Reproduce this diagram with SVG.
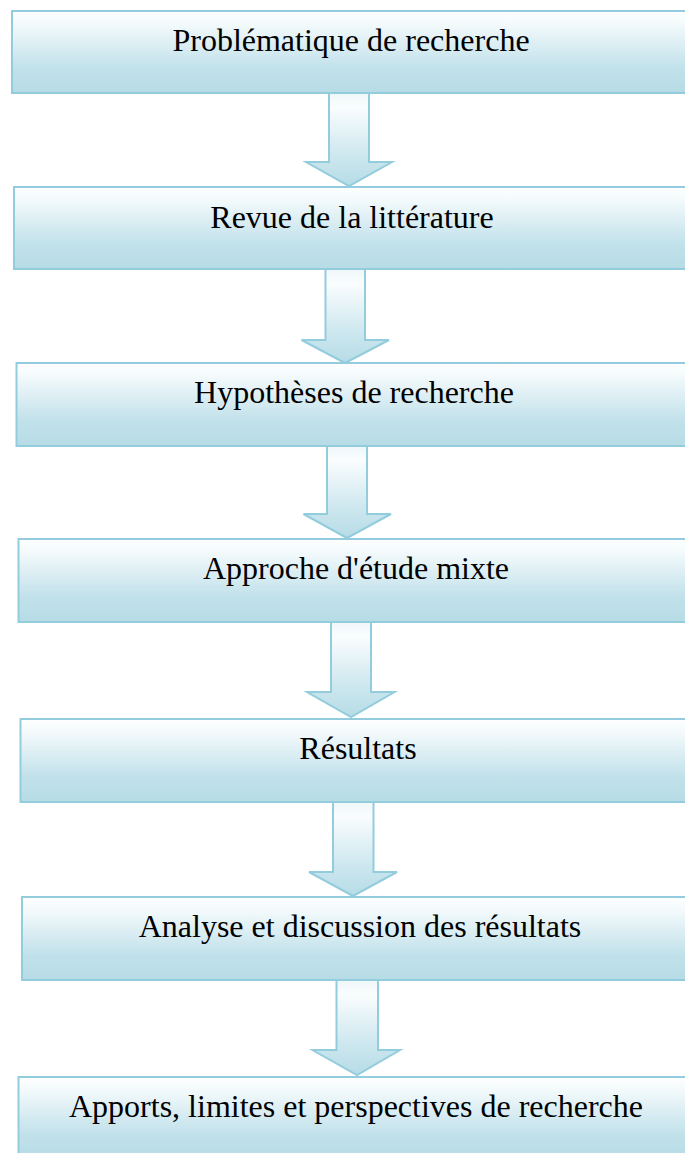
<svg xmlns="http://www.w3.org/2000/svg" width="685" height="1153" viewBox="0 0 685 1153">
<defs>
<linearGradient id="boxGrad" x1="0" y1="0" x2="0" y2="1">
<stop offset="0" stop-color="#FEFFFF"/>
<stop offset="0.15" stop-color="#F4FAFC"/>
<stop offset="0.7" stop-color="#C1E1EA"/>
<stop offset="1" stop-color="#B6DCE6"/>
</linearGradient>
<linearGradient id="arrowGrad" x1="0" y1="0" x2="0" y2="1">
<stop offset="0" stop-color="#EEF7FA"/>
<stop offset="0.15" stop-color="#FAFDFE"/>
<stop offset="0.7" stop-color="#CBE6EE"/>
<stop offset="1" stop-color="#B6DCE6"/>
</linearGradient>
<style>
.box{fill:url(#boxGrad);stroke:#93CDDD;stroke-width:2}
.arrow{fill:url(#arrowGrad);stroke:#93CDDD;stroke-width:2;stroke-linejoin:miter}
.label{font-family:"Liberation Serif","Times New Roman",serif;font-size:32px;fill:#000;text-anchor:middle}
</style>
</defs>
<rect width="685" height="1153" fill="#FFFFFF"/>
<g id="connectors">
<polygon class="arrow" points="329,93 369,93 369,162 392,162 349,186 306,162 329,162"/>
<polygon class="arrow" points="325.5,269 365,269 365,340 389,340 345,363 301.5,340 325.5,340"/>
<polygon class="arrow" points="327,446 367,446 367,514 391,514 347,538 303.5,514 327,514"/>
<polygon class="arrow" points="331,622 371,622 371,692 394.5,692 351,717 307,692 331,692"/>
<polygon class="arrow" points="333,802 373.5,802 373.5,872 397,872 353,896 309,872 333,872"/>
<polygon class="arrow" points="336.5,980 378,980 378,1050 400,1050 357,1075 312.5,1050 336.5,1050"/>
</g>
<g id="node1">
<rect class="box" x="12" y="11" width="700" height="82"/>
<text class="label" x="351" y="51">Problématique de recherche</text>
</g>
<g id="node2">
<rect class="box" x="14" y="187" width="700" height="82"/>
<text class="label" x="352" y="228">Revue de la littérature</text>
</g>
<g id="node3">
<rect class="box" x="16.5" y="363" width="700" height="83"/>
<text class="label" x="354" y="403">Hypothèses de recherche</text>
</g>
<g id="node4">
<rect class="box" x="18.5" y="539" width="700" height="83"/>
<text class="label" x="356" y="579">Approche d'étude mixte</text>
</g>
<g id="node5">
<rect class="box" x="20.5" y="719" width="700" height="83"/>
<text class="label" x="358" y="759">Résultats</text>
</g>
<g id="node6">
<rect class="box" x="22" y="897" width="700" height="83"/>
<text class="label" x="360" y="937">Analyse et discussion des résultats</text>
</g>
<g id="node7">
<rect class="box" x="18.5" y="1077" width="700" height="82"/>
<text class="label" x="356" y="1117">Apports, limites et perspectives de recherche</text>
</g>
</svg>
